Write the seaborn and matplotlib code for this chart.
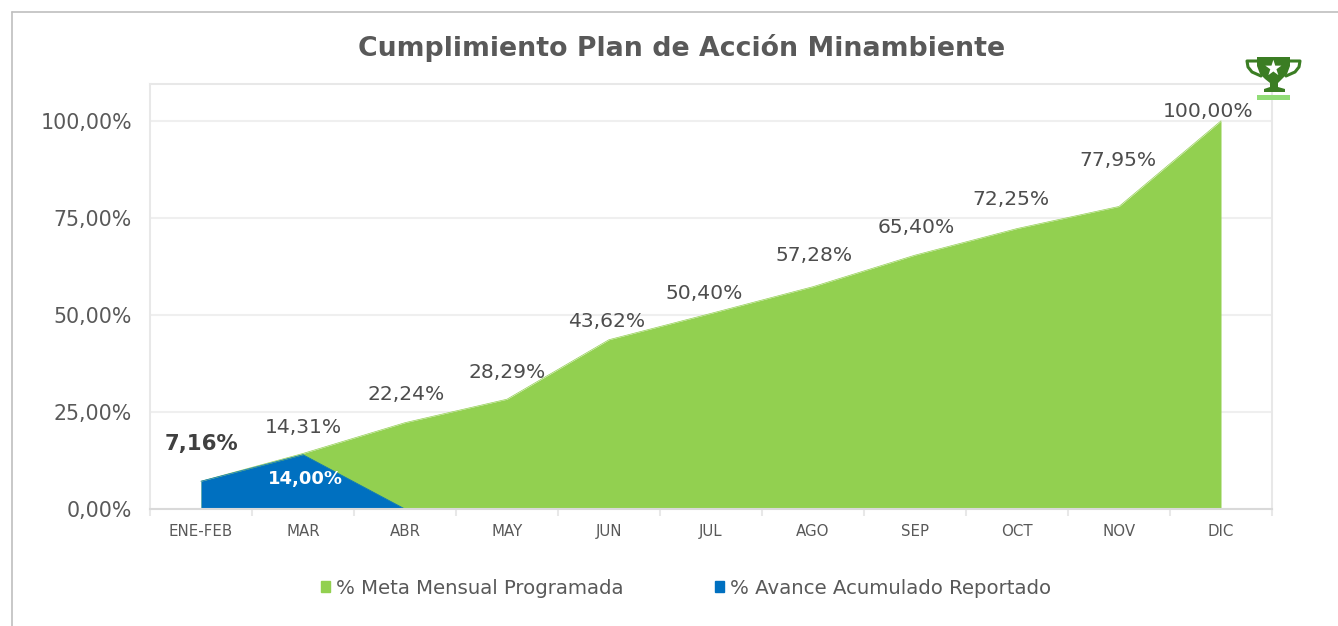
import matplotlib
matplotlib.use("Agg")
import matplotlib.pyplot as plt
import seaborn as sns
import numpy as np
import pandas as pd
from matplotlib.lines import Line2D
from matplotlib.patches import Patch, Polygon, FancyBboxPatch

# --- Data ---
months = ["ENE-FEB", "MAR", "ABR", "MAY", "JUN", "JUL", "AGO", "SEP", "OCT", "NOV", "DIC"]
meta = [7.16, 14.31, 22.24, 28.29, 43.62, 50.40, 57.28, 65.40, 72.25, 77.95, 100.00]
avance = [7.16, 14.00, 0.0]
meta_labels = ["7,16%", "14,31%", "22,24%", "28,29%", "43,62%", "50,40%",
               "57,28%", "65,40%", "72,25%", "77,95%", "100,00%"]
y_ticks = [0, 25, 50, 75, 100]
y_labels = ["0,00%", "25,00%", "50,00%", "75,00%", "100,00%"]

GREEN = "#92D050"
BLUE = "#0070C0"
GREY = "#595959"
LIGHT = "#E8E8E8"

# label offsets in pixels (x, y)
offsets = [(0, 37), (0, 26), (1, 28), (0, 27), (-2, 18), (-7, 20), (1, 31), (1, 28), (-6, 29), (-1, 46), (-13, 9)]

sns.set_theme(style="white")
plt.rcParams["font.family"] = ["DejaVu Sans"]

W, H = 1338, 626
fig = plt.figure(figsize=(W / 100, H / 100), dpi=100, facecolor="white")
ax = fig.add_axes([150 / W, 1 - 509 / H, (1272 - 150) / W, (509 - 84) / H])

df = pd.DataFrame({"mes": months, "meta": meta})
df["x"] = np.arange(len(months))
sns.lineplot(data=df, x="x", y="meta", color=GREEN, lw=0.5, ax=ax, zorder=3)
ax.fill_between(df["x"], 0, df["meta"], color=GREEN, lw=0, zorder=3)

df_av = df.iloc[:len(avance)].assign(avance=avance)
sns.lineplot(data=df_av, x="x", y="avance", color=BLUE, lw=0.5, ax=ax, zorder=4)
ax.fill_between(df_av["x"], 0, df_av["avance"], color=BLUE, lw=0, zorder=4)

ax.set_xlim(-0.5, 10.5)
ax.set_ylim(0, 109.5)
ax.set_xlabel("")
ax.set_ylabel("")
ax.set_yticks(y_ticks)
ax.set_yticklabels(y_labels, fontsize=14.8, color=GREY)
ax.set_xticks(df["x"])
ax.set_xticklabels(months, fontsize=10.8, color=GREY)
ax.tick_params(axis="y", length=0, pad=13)
ax.tick_params(axis="x", which="major", length=0, pad=11)
ax.set_xticks(np.arange(-0.5, 11), minor=True)
ax.tick_params(axis="x", which="minor", length=5, width=1.5, color=LIGHT, bottom=True)
ax.grid(axis="y", color="#EFEFEF", lw=1.5, zorder=0)
ax.set_axisbelow(True)
for side, spine in ax.spines.items():
    spine.set_visible(True)
    spine.set_color(LIGHT)
    spine.set_linewidth(1.5)
ax.spines["bottom"].set_color("#D9D9D9")
ax.spines["bottom"].set_zorder(5)

for i, (val, lab) in enumerate(zip(meta, meta_labels)):
    dx, dy = offsets[i]
    bold = i == 0
    ax.annotate(lab, (i, val), xytext=(dx * 0.72, dy * 0.72), textcoords="offset points",
                ha="center", va="center", fontsize=15.3 if bold else 14.6,
                color="#404040" if bold else "#4D4D4D", fontweight="bold" if bold else "normal")
ax.annotate("14,00%", (1, avance[1]), xytext=(1.5, -17.5), textcoords="offset points",
            ha="center", va="center", fontsize=13, color="white", fontweight="bold", zorder=6)

fig.text(682 / W, 1 - 48 / H, "Cumplimiento Plan de Acción Minambiente", ha="center", va="center",
         fontsize=19.3, fontweight="bold", color=GREY)

handles = [Patch(color=GREEN, label="% Meta Mensual Programada"),
           Patch(color=BLUE, label="% Avance Acumulado Reportado")]
fig.legend(handles=handles, loc="center", bbox_to_anchor=(686 / W, 1 - 588 / H), ncol=2,
           frameon=False, fontsize=14.2, labelcolor=GREY, handlelength=0.5, handleheight=0.5,
           handletextpad=0.3, columnspacing=4.6)

# outer frame of the pasted chart
fig.add_artist(Line2D([12 / W, 12 / W], [0, 1 - 12 / H], color="#BFBFBF", lw=1.2))
fig.add_artist(Line2D([12 / W, 1], [1 - 12 / H, 1 - 12 / H], color="#BFBFBF", lw=1.2))


# --- trophy icon, drawn in figure pixels ---
def px(points):
    return [(x / W, 1 - y / H) for x, y in points]


TROPHY = "#3B7D23"
cup = px([(1257, 57), (1290, 57), (1290, 66), (1287, 74), (1282, 79), (1278, 83), (1278, 87), (1285, 89),
          (1285, 92), (1264, 92), (1264, 89), (1270, 87), (1270, 83), (1265, 79), (1260, 74), (1257, 66)])
fig.add_artist(Polygon(cup, closed=True, color=TROPHY, lw=0, transform=fig.transFigure))
for side in [[(1258, 61), (1247, 61), (1248, 67), (1252, 72), (1261, 76)],
             [(1289, 61), (1300, 61), (1299, 67), (1295, 72), (1286, 76)]]:
    xs, ys = zip(*px(side))
    fig.add_artist(Line2D(xs, ys, color=TROPHY, lw=2.2))
fig.text(1273.5 / W, 1 - 68.5 / H, "★", ha="center", va="center", fontsize=15, color="white")
fig.add_artist(FancyBboxPatch((1257 / W, 1 - 99.5 / H), 33 / W, 4.5 / H, boxstyle="square,pad=0",
                              color="#92DD77", lw=0, transform=fig.transFigure))

fig.savefig("out.png", dpi=100)
